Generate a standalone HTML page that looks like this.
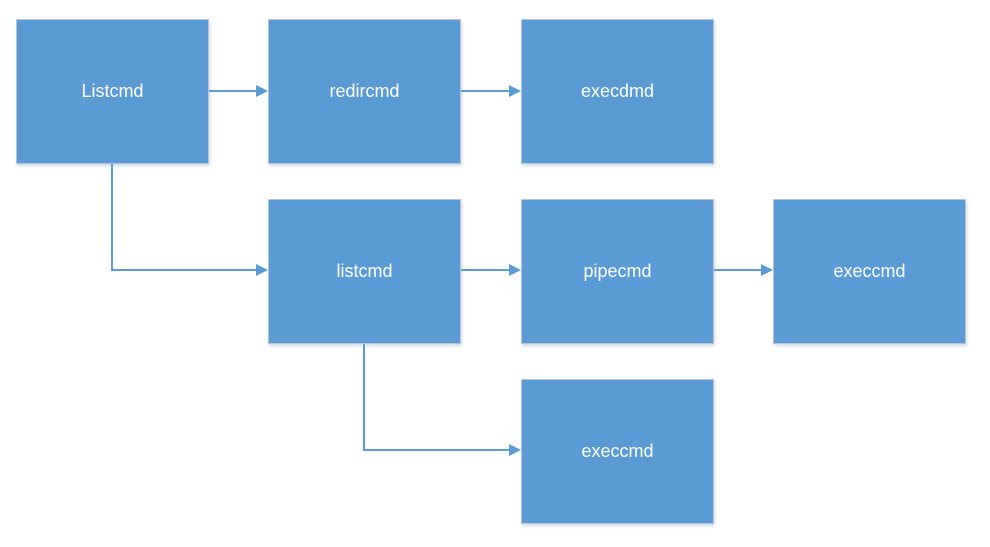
<!DOCTYPE html>
<html><head><meta charset="utf-8"><style>
body{margin:0;width:990px;height:547px;background:#fff;position:relative;overflow:hidden;font-family:"Liberation Sans",sans-serif}
.b{position:absolute;background:#5b9bd5;border:1px solid #b8c4d0;box-shadow:1px 2px 3px rgba(120,150,190,.35);color:#fff;font-size:18px;display:flex;align-items:center;justify-content:center;box-sizing:border-box;width:193px;height:145px}
svg{position:absolute;left:0;top:0}
</style></head><body>
<div class="b" style="left:16px;top:19px">Listcmd</div>
<div class="b" style="left:268px;top:19px">redircmd</div>
<div class="b" style="left:521px;top:19px">execdmd</div>
<div class="b" style="left:268px;top:199px">listcmd</div>
<div class="b" style="left:521px;top:199px">pipecmd</div>
<div class="b" style="left:773px;top:199px">execcmd</div>
<div class="b" style="left:521px;top:379px">execcmd</div>
<svg width="990" height="547">
<g stroke="#5b9bd5" stroke-width="2" fill="none">
<path d="M209 91H257"/><path d="M461 91H510"/>
<path d="M112 164V270H257"/><path d="M461 270H510"/><path d="M714 270H762"/>
<path d="M364 344V450H510"/>
</g>
<g fill="#5b9bd5">
<path d="M256 85L268 91L256 97Z"/><path d="M509 85L521 91L509 97Z"/>
<path d="M256 264L268 270L256 276Z"/><path d="M509 264L521 270L509 276Z"/><path d="M761 264L773 270L761 276Z"/>
<path d="M509 444L521 450L509 456Z"/>
</g>
</svg>
</body></html>
